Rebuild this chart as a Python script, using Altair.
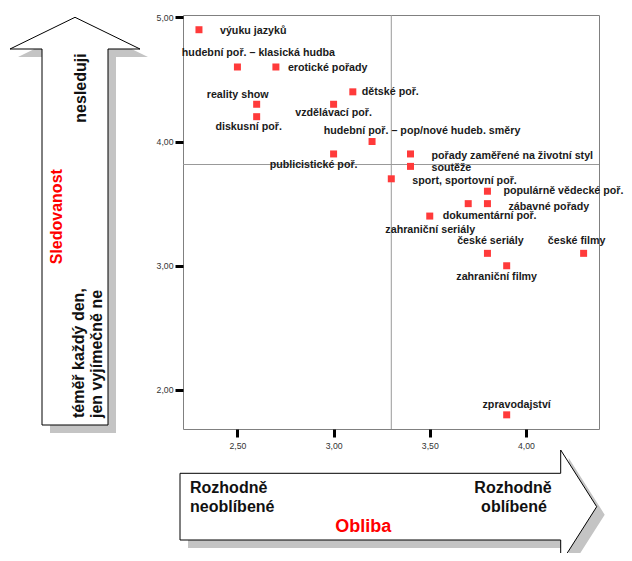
import altair as alt
import pandas as pd

# ---- data ----
porady = [
    "výuku jazyků", "hudební poř. – klasická hudba", "erotické pořady", "dětské poř.",
    "reality show", "vzdělávací poř.", "diskusní poř.", "hudební poř. – pop/nové hudeb. směry",
    "publicistické poř.", "pořady zaměřené na životní styl", "soutěže", "sport, sportovní poř.",
    "populárně vědecké poř.", "zábavné pořady", "zahraniční seriály", "dokumentární poř.",
    "české seriály", "české filmy", "zahraniční filmy", "zpravodajství",
]
obliba = [2.3, 2.5, 2.7, 3.1, 2.6, 3.0, 2.6, 3.2, 3.0, 3.4, 3.4, 3.3,
          3.8, 3.8, 3.7, 3.5, 3.8, 4.3, 3.9, 3.9]
sledovanost = [4.9, 4.6, 4.6, 4.4, 4.3, 4.3, 4.2, 4.0, 3.9, 3.9, 3.8, 3.7,
               3.6, 3.5, 3.5, 3.4, 3.1, 3.1, 3.0, 1.8]

x_ticks = [2.5, 3.0, 3.5, 4.0]
y_ticks = [2.0, 3.0, 4.0, 5.0]
ref_obliba = 3.30
ref_sledovanost = 3.815

y_arrow_title = "Sledovanost"
y_arrow_top = "nesleduji"
y_arrow_bottom = ["téměř každý den,", "jen vyjímečně ne"]
x_arrow_title = "Obliba"
x_arrow_left = ["Rozhodně", "neoblíbené"]
x_arrow_right = ["Rozhodně", "oblíbené"]

# ---- styling ----
FONT = "Liberation Sans"
W, H = 416, 414
# label placement: (align, dx, dy)
label_style = {
    "výuku jazyků": ("left", 21, 1),
    "hudební poř. – klasická hudba": ("center", 21, -14),
    "erotické pořady": ("left", 12, 1),
    "dětské poř.": ("left", 9, 0),
    "reality show": ("center", -19, -9),
    "vzdělávací poř.": ("center", 0, 9),
    "diskusní poř.": ("center", -8, 10),
    "hudební poř. – pop/nové hudeb. směry": ("center", 50, -11),
    "publicistické poř.": ("center", -20, 11),
    "pořady zaměřené na životní styl": ("left", 21, 2),
    "soutěže": ("left", 21, 2),
    "sport, sportovní poř.": ("left", 21, 2),
    "populárně vědecké poř.": ("left", 16, 0),
    "zábavné pořady": ("left", 21, 3),
    "zahraniční seriály": ("center", -38, 26),
    "dokumentární poř.": ("left", 13, 0),
    "české seriály": ("center", 3, -12),
    "české filmy": ("center", -7, -12),
    "zahraniční filmy": ("center", -10, 11),
    "zpravodajství": ("center", 10, -10),
}

df = pd.DataFrame({"porad": porady, "obliba": obliba, "sledovanost": sledovanost})
dummy = pd.DataFrame({"k": [0]})

x_scale = alt.Scale(domain=[2.217, 4.38], nice=False, zero=False)
y_scale = alt.Scale(domain=[1.686, 5.0185], nice=False, zero=False)
lab_expr = "replace(format(datum.value, '.2f'), '.', ',')"
x_axis = alt.Axis(values=x_ticks, labelExpr=lab_expr, labelPadding=4, title=None)
y_axis = alt.Axis(values=y_ticks, labelExpr=lab_expr, labelPadding=2, title=None)
x_enc = alt.X("obliba:Q", scale=x_scale, axis=x_axis)
y_enc = alt.Y("sledovanost:Q", scale=y_scale, axis=y_axis)

# arrow shapes (pixel paths relative to plot origin, symbol size 4 -> scale 1)
v_arrow = "M -108 2.3 L -43 34 L -75 34 L -75 410 L -141 410 L -141 34 L -173 34 Z"
v_shadow = "M -100 10.3 L -35 42 L -67 42 L -67 418 L -133 418 L -133 42 L -165 42 Z"
h_arrow = "M -3 458.3 L 377.7 458.3 L 377.7 435 L 413.7 491.7 L 377.7 548.3 L 377.7 525 L -3 525 Z"
h_shadow = "M 5 466.3 L 385.7 466.3 L 385.7 443 L 421.7 499.7 L 385.7 556.3 L 385.7 533 L 5 533 Z"


def shape(path, fill, stroke):
    kw = dict(shape=path, size=4, filled=True, fill=fill, opacity=1, fillOpacity=1)
    if stroke:
        kw.update(stroke=stroke, strokeWidth=1, strokeOpacity=1)
    else:
        kw.update(strokeWidth=0)
    return alt.Chart(dummy).mark_point(**kw).encode(x=alt.value(0), y=alt.value(0))


def txt(s, x, y, size=16, color="#111", align="center", angle=0):
    return alt.Chart(dummy).mark_text(
        font=FONT, fontWeight="bold", fontSize=size, color=color, align=align,
        baseline="middle", angle=angle
    ).encode(x=alt.value(x), y=alt.value(y), text=alt.value(s))


layers = [
    shape(v_shadow, "#c4c4c4", None),
    shape(h_shadow, "#c4c4c4", None),
    shape(v_arrow, "white", "black"),
    shape(h_arrow, "white", "black"),
]

points = alt.Chart(df).mark_square(size=49, color="#ff3a3a", opacity=1).encode(x=x_enc, y=y_enc)

rules = [
    alt.Chart(dummy).mark_rule(color="#999", strokeWidth=1).encode(
        x=alt.X(datum=ref_obliba, type="quantitative", scale=x_scale, axis=x_axis)),
    alt.Chart(dummy).mark_rule(color="#999", strokeWidth=1).encode(
        y=alt.Y(datum=ref_sledovanost, type="quantitative", scale=y_scale, axis=y_axis)),
]
layers += rules
layers.append(points)

for name in porady:
    align, dx, dy = label_style[name]
    layers.append(
        alt.Chart(df).transform_filter(alt.FieldEqualPredicate(field="porad", equal=name))
        .mark_text(font=FONT, fontWeight="bold", fontSize=10.7, color="#1a1a1a",
                   align=align, baseline="middle", dx=dx, dy=dy)
        .encode(x=x_enc, y=y_enc, text="porad:N")
    )

# arrow texts
layers += [
    txt(y_arrow_title, -126.3, 201.7, size=16, color="#ff0000", angle=270),
    txt(y_arrow_top, -102, 73, angle=270),
    txt(y_arrow_bottom[0], -104, 403, align="left", angle=270),
    txt(y_arrow_bottom[1], -86, 403, align="left", angle=270),
    txt(x_arrow_left[0], 7, 473.3, align="left"),
    txt(x_arrow_left[1], 7, 491.7, align="left"),
    txt(x_arrow_right[0], 330, 473.3),
    txt(x_arrow_right[1], 331, 491.7),
    txt(x_arrow_title, 180.3, 512, size=18, color="#ff0000"),
]

chart = alt.layer(*layers).properties(
    width=W, height=H,
    autosize=alt.AutoSizeParams(type="none"),
    padding={"left": 175, "top": 7, "right": 25, "bottom": 124},
).configure_view(
    stroke="#808080", strokeWidth=1
).configure_axis(
    domain=False, grid=False, ticks=True, tickColor="black", tickWidth=3, tickSize=8,
    labelFont=FONT, labelFontSize=8.7, labelColor="#333"
)

chart.save("out.html", embed_options={"renderer": "svg", "actions": False})
